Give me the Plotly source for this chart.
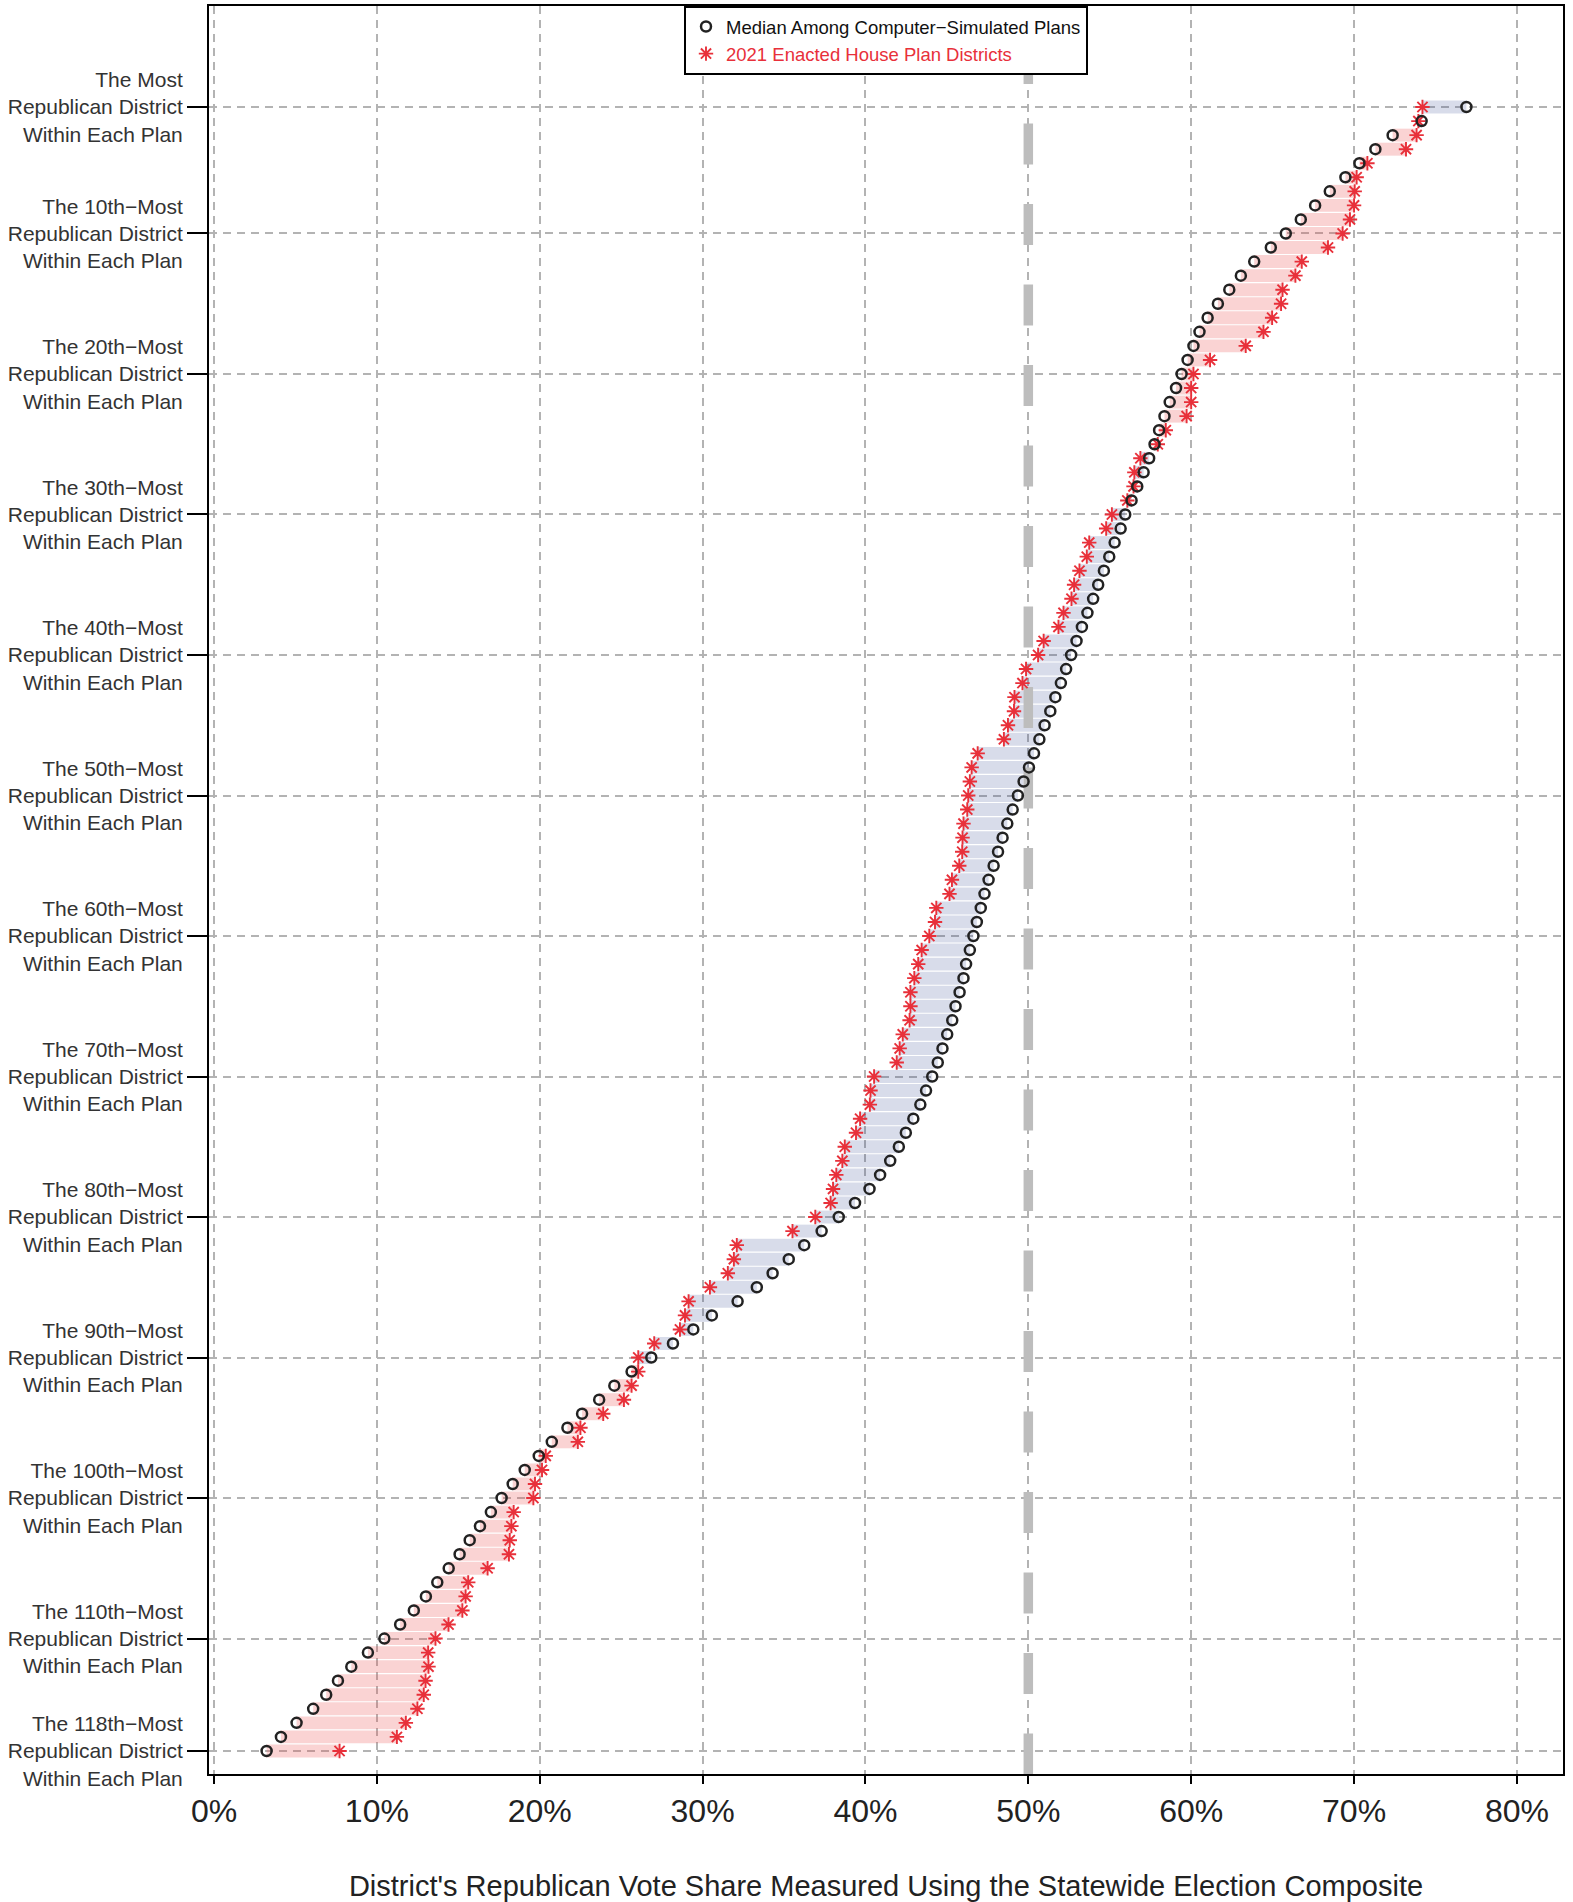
import plotly.graph_objects as go

# ---------------- data ----------------
ranks = list(range(1, 119))

median_sim = [
    76.9, 74.15, 72.37, 71.31, 70.33, 69.47, 68.51, 67.61, 66.73, 65.81,
    64.89, 63.87, 63.05, 62.34, 61.64, 61.01, 60.51, 60.14, 59.78, 59.41,
    59.07, 58.68, 58.36, 58.03, 57.75, 57.42, 57.08, 56.69, 56.34, 55.95,
    55.67, 55.30, 54.97, 54.64, 54.29, 53.98, 53.63, 53.29, 52.96, 52.63,
    52.32, 52.00, 51.66, 51.35, 51.00, 50.68, 50.35, 50.04, 49.71, 49.36,
    49.04, 48.71, 48.42, 48.14, 47.87, 47.56, 47.31, 47.08, 46.84, 46.63,
    46.41, 46.18, 46.02, 45.78, 45.53, 45.33, 45.02, 44.73, 44.44, 44.10,
    43.72, 43.37, 42.94, 42.48, 42.05, 41.52, 40.90, 40.25, 39.36, 38.36,
    37.31, 36.24, 35.29, 34.30, 33.33, 32.15, 30.57, 29.43, 28.18, 26.85,
    25.64, 24.58, 23.65, 22.60, 21.70, 20.74, 19.94, 19.08, 18.34, 17.66,
    17.00, 16.33, 15.70, 15.08, 14.41, 13.71, 13.01, 12.27, 11.43, 10.46,
    9.45, 8.43, 7.61, 6.89, 6.09, 5.07, 4.11, 3.23,
]

enacted = [
    74.20, 73.95, 73.84, 73.19, 70.82, 70.16, 70.04, 70.00, 69.75, 69.30,
    68.40, 66.79, 66.40, 65.61, 65.52, 64.97, 64.44, 63.35, 61.16, 60.14,
    60.00, 60.00, 59.72, 58.44, 57.95, 56.88, 56.51, 56.46, 56.08, 55.13,
    54.78, 53.74, 53.59, 53.14, 52.81, 52.65, 52.16, 51.85, 50.94, 50.60,
    49.86, 49.64, 49.15, 49.12, 48.75, 48.50, 46.89, 46.52, 46.41, 46.31,
    46.25, 46.02, 45.96, 45.94, 45.76, 45.31, 45.16, 44.35, 44.27, 43.92,
    43.45, 43.24, 43.00, 42.76, 42.76, 42.71, 42.29, 42.10, 41.92, 40.53,
    40.31, 40.27, 39.67, 39.42, 38.73, 38.58, 38.21, 38.01, 37.86, 36.92,
    35.52, 32.10, 31.92, 31.55, 30.45, 29.14, 28.92, 28.61, 27.03, 26.05,
    26.05, 25.64, 25.17, 23.90, 22.50, 22.34, 20.37, 20.14, 19.71, 19.61,
    18.40, 18.26, 18.16, 18.11, 16.80, 15.61, 15.45, 15.25, 14.40, 13.60,
    13.15, 13.17, 12.99, 12.88, 12.49, 11.78, 11.23, 7.71,
]

tick_ranks = [1, 10, 20, 30, 40, 50, 60, 70, 80, 90, 100, 110, 118]
tick_ordinals = ["", "10th", "20th", "30th", "40th", "50th", "60th", "70th",
                 "80th", "90th", "100th", "110th", "118th"]
x_ticks = [0, 10, 20, 30, 40, 50, 60, 70, 80]
x_tick_labels = ["0%", "10%", "20%", "30%", "40%", "50%", "60%", "70%", "80%"]

MIDLINE = 50

# ---------------- styling ----------------
FONT = "Liberation Sans, Arial, sans-serif"
RED = "#e8303a"
DARK = "#222222"
PINK = "rgba(235,80,80,0.25)"
BLUE = "rgba(60,80,150,0.20)"
GRID = "#b3b3b3"

y_ticktext = []
for o in tick_ordinals:
    first = "The Most" if o == "" else "The " + o + "\u2212Most"
    y_ticktext.append(first + "<br>Republican District<br>Within Each Plan")

band_base = [min(m, e) for m, e in zip(median_sim, enacted)]
band_len = [abs(m - e) for m, e in zip(median_sim, enacted)]
band_col = [PINK if e > m else BLUE for m, e in zip(median_sim, enacted)]

Y_TOP, Y_BOT = -6.19, 119.64

fig = go.Figure()

# thick dashed 50% reference line
fig.add_trace(go.Scatter(
    x=[MIDLINE, MIDLINE], y=[-3.56, Y_BOT], mode="lines",
    line=dict(color="#bdbdbd", width=9.5, dash="41px,39.5px"),
    showlegend=False, hoverinfo="skip"))

# shaded bands between median and enacted
fig.add_trace(go.Bar(
    y=ranks, x=band_len, base=band_base, orientation="h",
    marker=dict(color=band_col, line=dict(width=0)), width=0.92,
    showlegend=False, hoverinfo="skip"))

fig.add_trace(go.Scatter(
    x=enacted, y=ranks, mode="markers",
    name="<span style='color:%s'>2021 Enacted House Plan Districts</span>" % RED,
    marker=dict(symbol="asterisk-open", size=12, color=RED,
                line=dict(color=RED, width=1.9)),
    legendrank=2))

fig.add_trace(go.Scatter(
    x=median_sim, y=ranks, mode="markers",
    name="Median Among Computer\u2212Simulated Plans",
    marker=dict(symbol="circle-open", size=10, color=DARK,
                line=dict(color=DARK, width=2.5)),
    legendrank=1))

fig.update_layout(
    width=1573, height=1902, autosize=False,
    margin=dict(l=209, r=10, t=6, b=128, autoexpand=False),
    paper_bgcolor="white", plot_bgcolor="white",
    font=dict(family=FONT, color="#222"),
    barmode="overlay",
    showlegend=True,
    legend=dict(x=0.5, xanchor="center", y=1, yanchor="top",
                bgcolor="white", bordercolor="black", borderwidth=2,
                font=dict(size=18.5, color="#111", family=FONT),
                traceorder="normal"),
    xaxis=dict(range=[-0.307, 82.83], tickvals=x_ticks, ticktext=x_tick_labels,
               automargin=False,
               ticks="outside", ticklen=8, tickwidth=1.5, tickcolor="black",
               showline=True, linecolor="black", linewidth=2, mirror=True,
               showgrid=True, gridcolor=GRID, gridwidth=1.5, griddash="8px,6px",
               zeroline=False, tickfont=dict(size=32, color="#222"),
               title=dict(text="District's Republican Vote Share Measured Using the Statewide Election Composite",
                          font=dict(size=29, color="#222"), standoff=53)),
    yaxis=dict(range=[Y_BOT, Y_TOP], tickvals=tick_ranks, ticktext=y_ticktext,
               automargin=False,
               ticks="outside", ticklen=20, tickwidth=1.5, tickcolor="black",
               showline=True, linecolor="black", linewidth=2, mirror=True,
               showgrid=True, gridcolor=GRID, gridwidth=1.5, griddash="8px,6px",
               zeroline=False, tickfont=dict(size=21, color="#333")),
)

fig.write_html("out.html",
               config={"displayModeBar": False},
               post_script="document.body.style.margin='0px';document.body.style.overflow='hidden';")
